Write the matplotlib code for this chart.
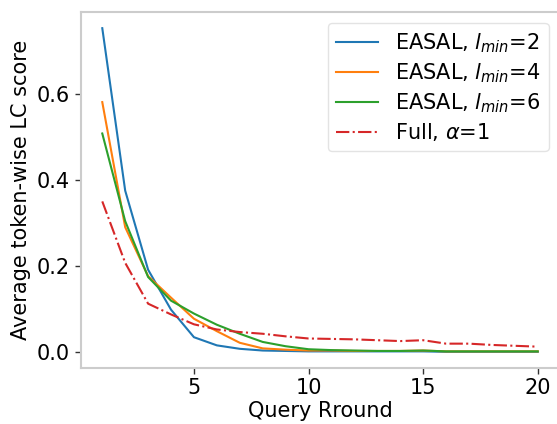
import matplotlib
matplotlib.use("Agg")
import matplotlib.pyplot as plt

# query rounds
rounds = list(range(1, 21))

# average token-wise LC score per round
easal_l2 = [0.753, 0.375, 0.191, 0.098, 0.034, 0.015, 0.007, 0.003, 0.002, 0.001,
            0.001, 0.001, 0.001, 0.001, 0.001, 0.0, 0.0, 0.0, 0.0, 0.0]
easal_l4 = [0.581, 0.290, 0.176, 0.126, 0.077, 0.048, 0.021, 0.008, 0.005, 0.003,
            0.003, 0.002, 0.002, 0.002, 0.003, 0.001, 0.001, 0.001, 0.001, 0.001]
easal_l6 = [0.508, 0.304, 0.174, 0.119, 0.089, 0.063, 0.042, 0.023, 0.013, 0.006,
            0.004, 0.003, 0.002, 0.002, 0.003, 0.001, 0.001, 0.001, 0.001, 0.001]
full_a1 = [0.350, 0.207, 0.112, 0.087, 0.064, 0.052, 0.046, 0.042, 0.036, 0.031,
           0.030, 0.029, 0.027, 0.025, 0.027, 0.019, 0.019, 0.016, 0.014, 0.012]

labels = [r'EASAL, $l_{min}$=2', r'EASAL, $l_{min}$=4',
          r'EASAL, $l_{min}$=6', r'Full, $\alpha$=1']

plt.rcParams['font.size'] = 15

fig = plt.figure(figsize=(5.57, 4.24), dpi=100)
# right spine sits just outside the picture, as in the cropped original
ax = fig.add_axes([80.5 / 557, 56 / 424, 479 / 557, 356 / 424])

ax.plot(rounds, easal_l2, color='#1f77b4', lw=1.5, label=labels[0])
ax.plot(rounds, easal_l4, color='#ff7f0e', lw=1.5, label=labels[1])
ax.plot(rounds, easal_l6, color='#2ca02c', lw=1.5, label=labels[2])
ax.plot(rounds, full_a1, color='#d62728', lw=1.5, ls='-.', label=labels[3])

ax.set_xticks([5, 10, 15, 20])
ax.set_yticks([0.0, 0.2, 0.4, 0.6])
ax.set_xlabel('Query Rround', labelpad=2)
ax.set_ylabel('Average token-wise LC score')

for s in ax.spines.values():
    s.set_color('#cccccc')
    s.set_linewidth(1.5)
ax.tick_params(length=4, width=1, color='#333333')

ax.legend(loc='upper right', edgecolor='#dddddd', labelspacing=0.3,
          bbox_to_anchor=(548.5 / 557, 401 / 424), bbox_transform=fig.transFigure,
          borderaxespad=0)

fig.savefig('out.png', dpi=100)
